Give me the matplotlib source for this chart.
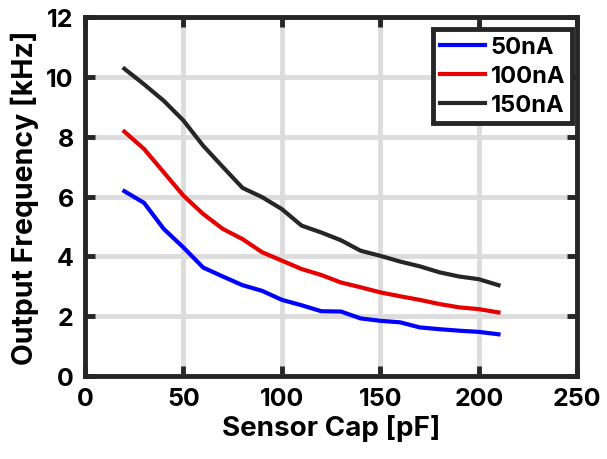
import numpy as np
import matplotlib.pyplot as plt

plt.rcParams['font.family'] = ['Inter', 'DejaVu Sans']
plt.rcParams['font.weight'] = 'bold'

# sensor capacitance sweep [pF]
cap = [20, 30, 40, 50, 60, 70, 80, 90, 100, 110, 120, 130, 140, 150, 160, 170, 180, 190, 200, 210]

# output frequency [kHz] for each bias current
f_50nA = [6.18, 5.79, 4.92, 4.30, 3.63, 3.33, 3.04, 2.85, 2.55, 2.37, 2.17, 2.16, 1.93, 1.85, 1.80, 1.63, 1.57, 1.52, 1.48, 1.40]
f_100nA = [8.17, 7.59, 6.81, 6.03, 5.42, 4.92, 4.58, 4.14, 3.86, 3.58, 3.38, 3.13, 2.97, 2.80, 2.67, 2.55, 2.41, 2.30, 2.24, 2.13]
f_150nA = [10.27, 9.75, 9.20, 8.54, 7.70, 6.99, 6.29, 5.98, 5.58, 5.03, 4.80, 4.54, 4.19, 4.02, 3.83, 3.67, 3.47, 3.33, 3.24, 3.04]

labels = ['50nA', '100nA', '150nA']
colors = ['#0000ff', '#e60000', '#262626']

fig = plt.figure(figsize=(6.07, 4.6), dpi=100)
ax = fig.add_axes([0.14, 0.18, 0.811, 0.781])

for y, lab, c in zip([f_50nA, f_100nA, f_150nA], labels, colors):
    ax.plot(cap, y, color=c, linewidth=3, label=lab)

ax.set_xlim(0, 250)
ax.set_ylim(0, 12)
ax.set_xticks(np.arange(0, 251, 50))
ax.set_yticks(np.arange(0, 13, 2))

ax.grid(True, color='#dcdcdc', linewidth=3.5)
ax.set_axisbelow(True)

for s in ax.spines.values():
    s.set_linewidth(3.5)
    s.set_color('#262626')

ax.tick_params(direction='in', length=7, width=3.5, color='#262626',
               labelsize=18, pad=8, top=True, right=True)

ax.set_xlabel('Sensor Cap [pF]', fontsize=20, fontweight='bold', labelpad=3)
ax.set_ylabel('Output Frequency [kHz]', fontsize=20.5, fontweight='bold', labelpad=5)

leg = ax.legend(loc='upper right', bbox_to_anchor=(0.99, 0.967), fontsize=17,
                frameon=True, fancybox=False, handlelength=1.9, handletextpad=0.25,
                labelspacing=0.3, borderpad=0.3, borderaxespad=0)
leg.get_frame().set_edgecolor('#262626')
leg.get_frame().set_linewidth(3.5)
leg.get_frame().set_alpha(1)

fig.savefig('out.png', dpi=100)
